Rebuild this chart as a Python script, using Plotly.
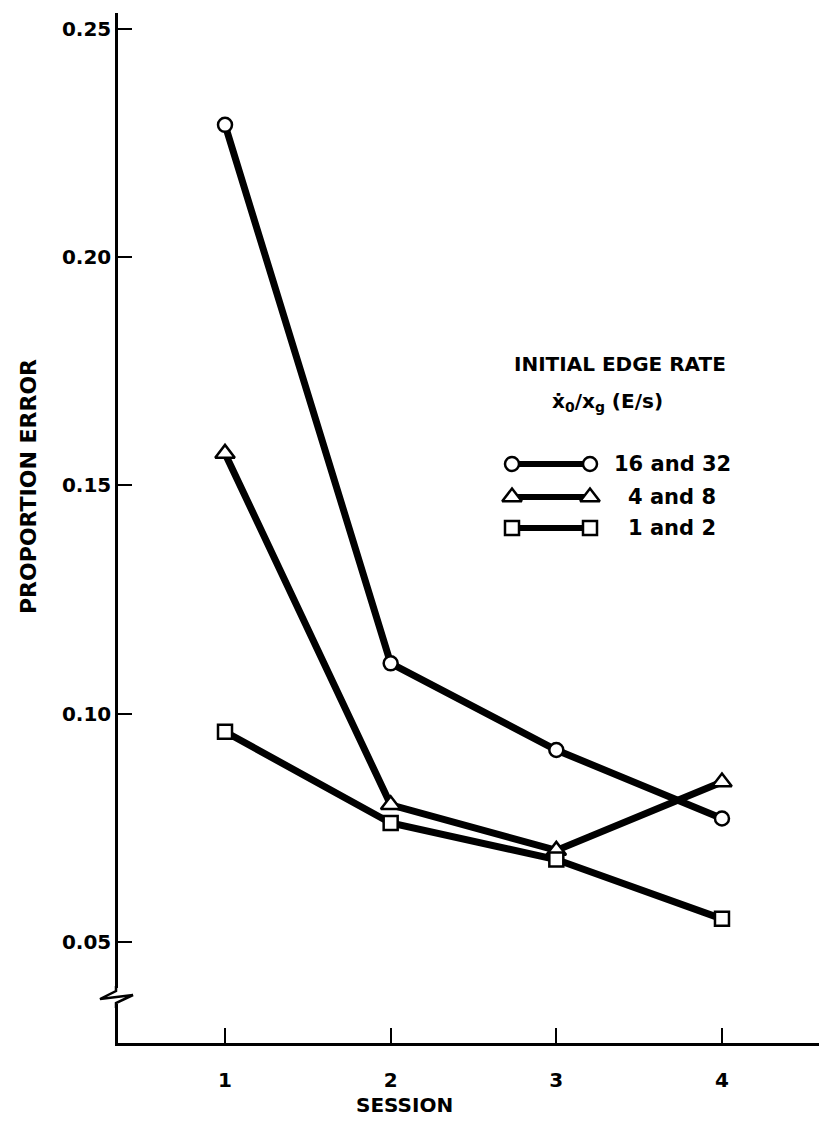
import plotly.graph_objects as go

# ---- data ----
sessions = [1, 2, 3, 4]
err_16_32 = [0.229, 0.111, 0.092, 0.077]
err_4_8 = [0.157, 0.080, 0.070, 0.085]
err_1_2 = [0.096, 0.076, 0.068, 0.055]
series_labels = ["16 and 32", "4 and 8", "1 and 2"]
series_symbols = ["circle", "triangle-up", "square"]
y_ticks = [0.05, 0.10, 0.15, 0.20, 0.25]
y_tick_text = ["0.05", "0.10", "0.15", "0.20", "0.25"]
x_ticks = [1, 2, 3, 4]

# page has an 8px body margin; figure sits at (8, 8)
OFF = 8
W, H = 819, 1108
L, R, T, B = 110, 0, 5, 73
PW, PH = W - L - R, H - T - B

def px(xp):  # page pixel x -> paper
    return (xp - OFF - L) / PW

def py(yp):  # page pixel y -> paper
    return (H - B - (yp - OFF)) / PH

FONT = "DejaVu Sans"
BLACK = "#000000"

fig = go.Figure()

series = [err_16_32, err_4_8, err_1_2]
msizes = [14, 17, 14]
for vals, sym, lab, ms in zip(series, series_symbols, series_labels, msizes):
    fig.add_trace(go.Scatter(
        x=sessions, y=vals, mode="lines+markers", name=lab,
        line=dict(color=BLACK, width=7),
        marker=dict(symbol=sym, size=ms, color="white",
                    line=dict(color=BLACK, width=2.5)),
        showlegend=False, cliponaxis=False,
    ))

# ---- hand-made legend on an overlay axis (0..1 = plot area) ----
leg_rows_y = [py(464), py(497), py(528)]
leg_x0, leg_x1 = px(512), px(590)
for yy, sym, lab, ms in zip(leg_rows_y, series_symbols, series_labels, msizes):
    fig.add_trace(go.Scatter(
        x=[leg_x0, leg_x1], y=[yy, yy], mode="lines+markers",
        xaxis="x2", yaxis="y2", showlegend=False, hoverinfo="skip",
        line=dict(color=BLACK, width=6),
        marker=dict(symbol=sym, size=ms, color="white",
                    line=dict(color=BLACK, width=2.5)),
        cliponaxis=False,
    ))
    fig.add_annotation(x=px(672), y=yy, xref="paper", yref="paper", text=f"<b>{lab}</b>",
                       showarrow=False, xanchor="center", yanchor="middle",
                       font=dict(family=FONT, size=21, color=BLACK))

fig.add_annotation(x=px(620), y=py(364), xref="paper", yref="paper",
                   text="<b>INITIAL EDGE RATE</b>", showarrow=False,
                   xanchor="center", yanchor="middle",
                   font=dict(family=FONT, size=20, color=BLACK))
fig.add_annotation(x=px(607), y=py(402), xref="paper", yref="paper",
                   text="<b>x\u0307<sub>0</sub>/x<sub>g</sub> (E/s)</b>", showarrow=False,
                   xanchor="center", yanchor="middle",
                   font=dict(family=FONT, size=20, color=BLACK))

# axis titles
fig.add_annotation(x=px(28), y=py(487), xref="paper", yref="paper",
                   text="<b>PROPORTION ERROR</b>", textangle=-90, showarrow=False,
                   xanchor="center", yanchor="middle",
                   font=dict(family=FONT, size=22, color=BLACK))
fig.add_annotation(x=px(404), y=py(1105), xref="paper", yref="paper",
                   text="<b>SESSION</b>", showarrow=False,
                   xanchor="center", yanchor="middle",
                   font=dict(family=FONT, size=20, color=BLACK))

# axis break on the y axis
fig.add_shape(type="rect", xref="paper", yref="paper",
              x0=px(108), x1=px(128), y0=py(1004), y1=py(988),
              fillcolor="white", line=dict(width=0), layer="above")
fig.add_shape(type="path", xref="paper", yref="paper", layer="above",
              path=(f"M {px(116)},{py(986)} L {px(116)},{py(991)} L {px(100)},{py(999)} "
                    f"L {px(133)},{py(995)} L {px(116)},{py(1003)} L {px(116)},{py(1008)}"),
              line=dict(color=BLACK, width=2.5))

fig.update_layout(
    width=W, height=H,
    margin=dict(l=L, r=R, t=T, b=B, pad=0),
    paper_bgcolor="white", plot_bgcolor="white",
    showlegend=False,
    xaxis=dict(range=[0.354, 4.634], tickvals=x_ticks, ticktext=[f"<b>{v}</b>" for v in x_ticks],
               ticks="inside", ticklen=15, tickwidth=2, tickcolor=BLACK,
               showline=True, linewidth=2.5, linecolor=BLACK,
               showgrid=False, zeroline=False,
               tickfont=dict(family=FONT, size=20, color=BLACK), ticklabelstandoff=17),
    yaxis=dict(range=[0.0278, 0.2535], tickvals=y_ticks, ticktext=[f"<b>{t}</b>" for t in y_tick_text],
               ticks="inside", ticklen=14, tickwidth=2, tickcolor=BLACK,
               showline=True, linewidth=2.5, linecolor=BLACK,
               showgrid=False, zeroline=False,
               tickfont=dict(family=FONT, size=20, color=BLACK), ticklabelstandoff=0),
    xaxis2=dict(range=[0, 1], overlaying="x", visible=False, fixedrange=True),
    yaxis2=dict(range=[0, 1], overlaying="y", visible=False, fixedrange=True),
)

fig.write_html("out.html")
